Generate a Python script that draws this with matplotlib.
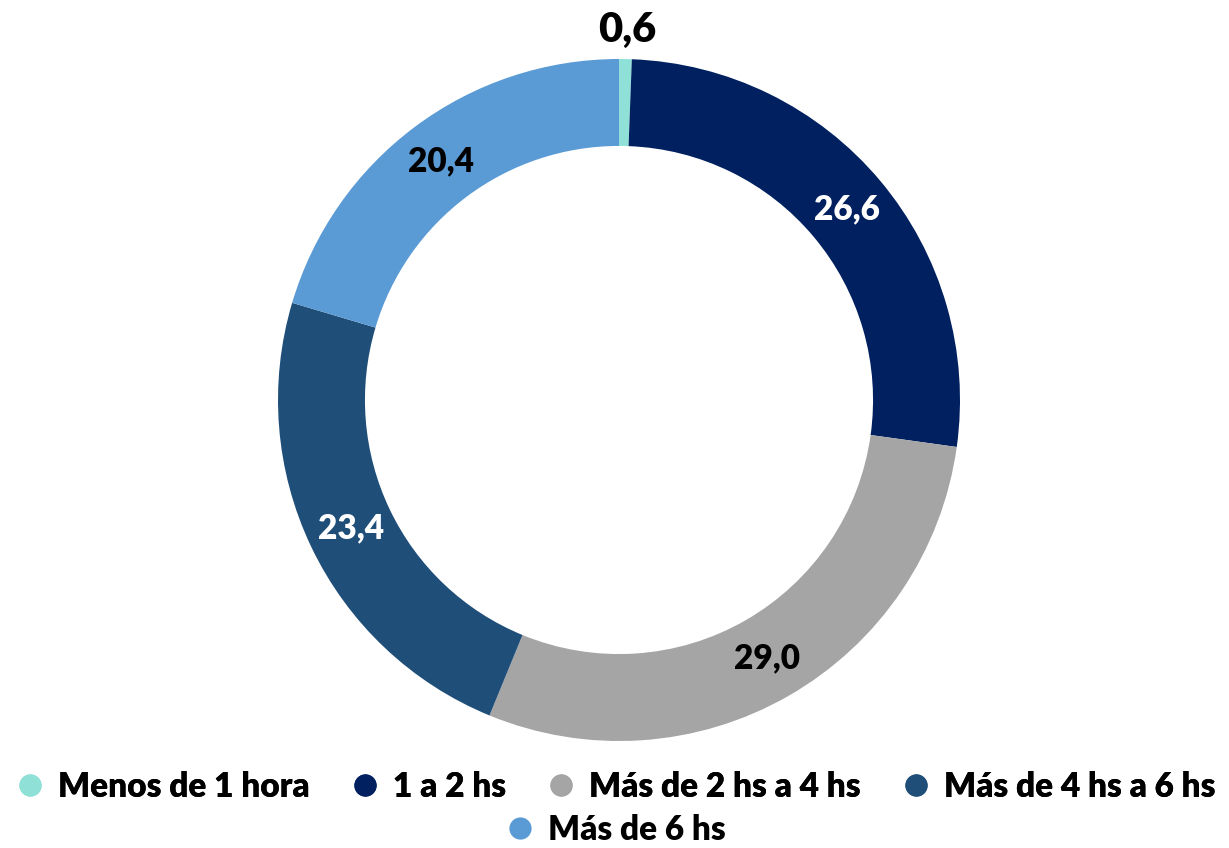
import numpy as np
import matplotlib.pyplot as plt
from matplotlib.lines import Line2D

# data
categorias = ["Menos de 1 hora", "1 a 2 hs", "Más de 2 hs a 4 hs", "Más de 4 hs a 6 hs", "Más de 6 hs"]
valores = [0.6, 26.6, 29.0, 23.4, 20.4]
etiquetas = ["0,6", "26,6", "29,0", "23,4", "20,4"]
colores = ["#8FE0D6", "#002060", "#A5A5A5", "#1F4E79", "#5B9BD5"]
color_texto = ["black", "white", "black", "white", "black"]

plt.rcParams['font.family'] = ['Lato', 'DejaVu Sans']
plt.rcParams['font.weight'] = 'heavy'

fig = plt.figure(figsize=(12.29, 8.48), dpi=100)
W, H = 1229, 848
cx, cy, r = 619, 400, 341
ax = fig.add_axes([(cx - r) / W, (H - cy - r) / H, 2 * r / W, 2 * r / H])

ancho = 0.255
wedges, _ = ax.pie(valores, colors=colores, startangle=90, counterclock=False,
                   radius=1, wedgeprops=dict(width=ancho, edgecolor='none'))
ax.set_xlim(-1, 1)
ax.set_ylim(-1, 1)
ax.set_aspect('equal')
ax.axis('off')

for i, w in enumerate(wedges):
    ang = np.deg2rad((w.theta1 + w.theta2) / 2)
    if i == 0:
        # etiqueta pequeña fuera del anillo
        ax.text(0.025, 1.085, etiquetas[i], ha='center', va='center',
                fontsize=30, fontweight='heavy', color='black')
    else:
        rr = 1 - ancho / 2
        ax.text(rr * np.cos(ang), rr * np.sin(ang), etiquetas[i], ha='center', va='center',
                fontsize=24, fontweight='heavy', color=color_texto[i])

handles = [Line2D([], [], marker='o', linestyle='none', markersize=16,
                  markerfacecolor=c, markeredgecolor='none') for c in colores]
leg1 = fig.legend(handles[:4], categorias[:4], loc='center', ncol=4,
                  bbox_to_anchor=(0.5, 1 - 787 / H), frameon=False,
                  prop=dict(size=24, weight='heavy'),
                  handletextpad=0.35, columnspacing=1.15, handlelength=1.0)
fig.add_artist(leg1)
fig.legend(handles[4:], categorias[4:], loc='center', ncol=1,
           bbox_to_anchor=(0.5, 1 - 830 / H), frameon=False,
           prop=dict(size=24, weight='heavy'), handletextpad=0.35, handlelength=1.0)

fig.savefig('out.png', dpi=100)
